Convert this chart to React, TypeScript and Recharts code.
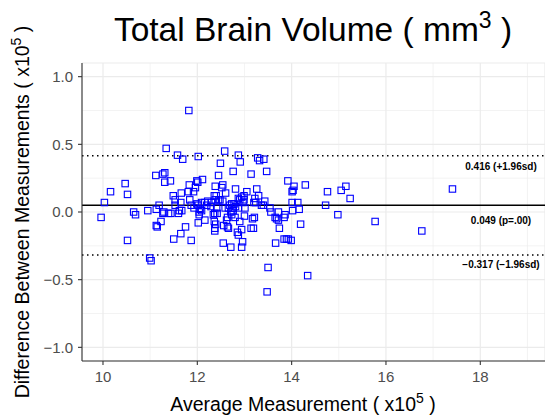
import { ScatterChart, Scatter, XAxis, YAxis, CartesianGrid, ReferenceLine } from "recharts";

// ─── Data (values x10^5) ─────────────────────────────────────────────────────

const avgMeasurement = [
  9.96, 10.03, 10.16, 10.47, 10.52, 10.65, 10.69, 10.52, 10.95, 10.99, 11.02,
  11.12, 11.27, 11.31, 11.31, 11.43, 11.34, 11.58, 11.69, 11.13, 11.15, 11.19,
  11.13, 11.23, 11.27, 11.29, 11.39, 11.44, 11.49, 11.53, 11.5, 11.6, 11.62,
  11.67, 11.65, 11.66, 11.65, 11.75, 11.82, 11.53, 11.83, 11.81, 11.84, 11.87,
  11.92, 11.96, 11.99, 12.01, 12.11, 11.93, 11.99, 12.02, 12.04, 12.04, 12.02,
  12.16, 12.09, 12.16, 12.22, 12.3, 12.02, 12.06, 11.87, 12.09, 12.38, 12.38,
  12.36, 12.4, 12.45, 12.49, 12.58, 12.54, 12.52, 12.45, 12.48, 12.54, 12.6,
  12.34, 12.37, 12.42, 12.36, 12.39, 12.37, 12.37, 12.56, 12.55, 12.62, 12.64,
  12.64, 12.66, 12.71, 12.2, 12.29, 12.41, 12.59, 12.66, 12.76, 12.81, 12.87,
  12.91, 12.69, 12.73, 12.78, 12.81, 12.71, 12.76, 12.73, 12.8, 12.87, 12.9,
  12.94, 12.99, 12.9, 12.85, 12.87, 12.96, 12.94, 12.94, 12.97, 12.99, 13.01,
  13.05, 12.76, 12.87, 13.14, 13.17, 13.21, 13.14, 13.19, 13.24, 13.26, 13.3,
  13.28, 13.32, 13.41, 13.47, 13.36, 13.43, 13.4, 13.54, 13.56, 13.65, 13.68,
  13.72, 13.72, 13.5, 13.48, 13.66, 13.74, 13.2, 13.0, 13.22, 13.84, 13.86,
  13.84, 13.89, 13.93, 13.99, 13.92, 14.01, 14.05, 14.03, 14.01, 14.13, 14.02,
  14.16, 14.19, 14.29, 14.34, 14.76, 14.72, 14.98, 15.05, 15.15, 15.24, 15.77,
  16.76, 17.41,
];

const difference = [
  -0.04, 0.07, 0.15, 0.21, 0.13, 0.0, -0.02, -0.21, 0.01, -0.34, -0.36,
  0.27, 0.28, 0.29, 0.22, 0.23, 0.47, 0.42, 0.39, -0.1, -0.11, 0.05,
  0.02, -0.07, -0.01, 0.0, -0.01, -0.01, 0.12, 0.09, -0.2, -0.01, 0.01,
  0.01, 0.07, 0.14, -0.16, -0.11, 0.75, 0.05, 0.2, 0.15, 0.09, -0.21,
  0.15, 0.18, 0.23, 0.22, 0.24, 0.03, 0.06, 0.05, 0.0, -0.02, -0.08,
  -0.06, 0.07, 0.07, 0.08, 0.07, 0.41, 0.02, 0.05, 0.01, 0.19, 0.09,
  0.12, 0.12, 0.27, 0.36, 0.45, 0.2, 0.18, 0.09, 0.09, 0.08, 0.14,
  -0.02, -0.01, -0.01, -0.07, -0.09, -0.12, -0.14, -0.1, -0.23, -0.06, -0.04,
  -0.11, -0.12, -0.26, 0.05, 0.04, 0.03, 0.03, 0.03, 0.3, 0.17, 0.42,
  0.37, 0.05, 0.06, 0.06, 0.04, 0.0, 0.01, -0.02, -0.04, 0.1, 0.09,
  0.11, 0.12, -0.07, -0.15, -0.17, -0.22, -0.26, -0.13, 0.07, 0.09, 0.03,
  0.15, 0.03, 0.03, 0.28, -0.05, -0.04, -0.12, -0.12, 0.07, 0.17, 0.12,
  0.4, 0.38, 0.39, 0.3, 0.05, 0.08, 0.05, 0.03, 0.0, -0.04, -0.05,
  -0.06, 0.0, -0.41, -0.59, -0.23, -0.12, 0.07, -0.03, 0.1, -0.04, -0.02,
  -0.2, -0.2, -0.2, -0.21, 0.23, 0.15, 0.19, 0.16, 0.07, 0.07, 0.01,
  0.02, -0.09, 0.2, -0.47, 0.15, 0.05, -0.02, 0.16, 0.19, 0.1, -0.07,
  -0.14, 0.17,
];

const xTicks = [10, 12, 14, 16, 18];
const xMinorTicks = [11, 13, 15, 17, 19];
const yTicks = [-1, -0.5, 0, 0.5, 1];
const yMinorTicks = [-0.75, -0.25, 0.25, 0.75];

const meanDiff = 0.049;
const upperLimit = 0.416;
const lowerLimit = -0.317;
const upperText = "0.416 (+1.96sd)";
const meanText = "0.049 (p=.00)";
const lowerText = "\u22120.317 (\u22121.96sd)";

const points = avgMeasurement.map((x, i) => ({ x, y: difference[i] }));

// ─── Styling ─────────────────────────────────────────────────────────────────

const FONT = "'Liberation Sans', Arial, Helvetica, sans-serif";
const W = 545;
const H = 420;
const gridMajor = "#ebebeb";
const axisColor = "#333333";
const tickColor = "#4d4d4d";

const fmt = (v: number) => v.toFixed(1).replace("-", "\u2212");

function SquareMark(props: any) {
  const { cx, cy } = props;
  if (cx == null || cy == null) return null;
  return (
    <rect x={cx - 3.2} y={cy - 3.2} width={6.4} height={6.4} fill="none" stroke="#0000ff" strokeWidth={1.1} />
  );
}

function limitLabel(text: string, dy: number) {
  return (props: any) => {
    const vb = props.viewBox || {};
    return (
      <text
        x={vb.x + vb.width - 44}
        y={vb.y + dy}
        textAnchor="middle"
        fontFamily={FONT}
        fontSize={10}
        fontWeight="bold"
        fill="#000"
      >
        {text}
      </text>
    );
  };
}

export default function App() {
  return (
    <div style={{ position: "absolute", left: 0, top: 0, width: W, height: H, background: "#fff" }}>
      <ScatterChart
        width={W}
        height={H}
        margin={{ top: 63, right: 0, bottom: 29, left: 22 }}
        style={{ fontFamily: FONT }}
      >
        <CartesianGrid stroke={gridMajor} strokeWidth={1.2} />
        {xMinorTicks.map((v) => (
          <ReferenceLine key={"mx" + v} x={v} stroke={gridMajor} strokeWidth={0.6} />
        ))}
        {yMinorTicks.map((v) => (
          <ReferenceLine key={"my" + v} y={v} stroke={gridMajor} strokeWidth={0.6} />
        ))}
        <XAxis
          type="number"
          dataKey="x"
          domain={[9.555, 19.372]}
          ticks={xTicks}
          allowDataOverflow
          height={30}
          stroke={axisColor}
          strokeWidth={1.1}
          tickSize={4}
          tickMargin={6}
          tick={{ fill: tickColor, fontSize: 15, fontFamily: FONT }}
        />
        <YAxis
          type="number"
          dataKey="y"
          domain={[-1.101, 1.101]}
          ticks={yTicks}
          allowDataOverflow
          width={60}
          stroke={axisColor}
          strokeWidth={1.1}
          tickSize={4}
          tickMargin={5}
          tickFormatter={fmt}
          tick={{ fill: tickColor, fontSize: 15, fontFamily: FONT }}
        />
        <ReferenceLine y={upperLimit} stroke="#000" strokeWidth={1.5} strokeDasharray="1.5 3.5" label={limitLabel(upperText, 14)} />
        <ReferenceLine y={meanDiff} stroke="#000" strokeWidth={1.5} label={limitLabel(meanText, 18.5)} />
        <ReferenceLine y={lowerLimit} stroke="#000" strokeWidth={1.5} strokeDasharray="1.5 3.5" label={limitLabel(lowerText, 13)} />
        <Scatter data={points} shape={SquareMark} isAnimationActive={false} />
      </ScatterChart>
      <svg
        width={W}
        height={H}
        style={{ position: "absolute", left: 0, top: 0, pointerEvents: "none" }}
        fontFamily={FONT}
      >
        <text x={313} y={41} textAnchor="middle" fontSize={33.5} fill="#000">
          Total Brain Volume ( mm<tspan dy={-13} fontSize={23}>3</tspan>
          <tspan dy={13}> )</tspan>
        </text>
        <text x={303} y={411} textAnchor="middle" fontSize={19.5} fill="#000">
          Average Measurement ( x10<tspan dy={-8} fontSize={14}>5</tspan>
          <tspan dy={8}> )</tspan>
        </text>
        <text transform="translate(29,212) rotate(-90)" textAnchor="middle" fontSize={19.5} fill="#000">
          Difference Between Measurements ( x10<tspan dy={-8} fontSize={14}>5</tspan>
          <tspan dy={8}> )</tspan>
        </text>
      </svg>
    </div>
  );
}
